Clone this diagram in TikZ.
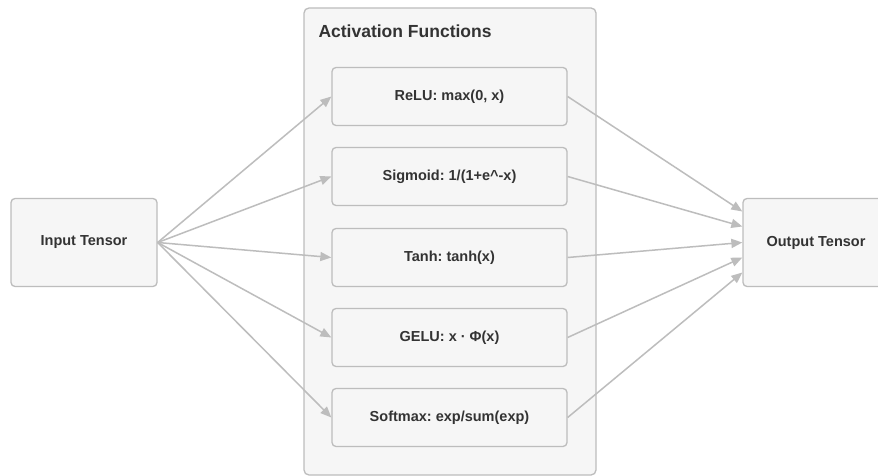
\documentclass[tikz,border=0pt]{standalone}
\usepackage{fontspec}
\setmainfont{Liberation Sans}
\usepackage{tikz}
\usetikzlibrary{arrows.meta,positioning,calc}
\frenchspacing

\definecolor{boxfill}{HTML}{F6F6F6}
\definecolor{boxline}{HTML}{BDBDBD}
\definecolor{textgray}{HTML}{333333}

\begin{document}
\begin{tikzpicture}[
    x=1pt, y=-1pt,
    tensor/.style={draw=boxline, line width=1.3pt, rounded corners=4pt, fill=boxfill, minimum width=146pt, minimum height=88pt, inner sep=0pt, align=center, font=\fontsize{14.5}{16}\selectfont\bfseries, text=textgray},
    act/.style={tensor, minimum width=235pt, minimum height=58pt},
    group/.style={draw=boxline, line width=1.3pt, rounded corners=5pt, fill=boxfill, minimum width=292pt, minimum height=467pt, inner sep=0pt},
    arr/.style={-{Triangle[length=11pt, width=9pt]}, line width=1.5pt, color=boxline}
]
\useasboundingbox (0,0) rectangle (878,476);
\fill[white] (0,0) rectangle (878,476);

% container for the activation functions
\node[group] (funcs) at (450,241.5) {};
\node[anchor=west, font=\fontsize{17.5}{19}\selectfont\bfseries, text=textgray] (title) at (315,31) {Activation Functions};

\node[tensor] (in) at (84,242.5) {Input Tensor};
\node[act] (relu) at (449.5,96.5) {ReLU: max(0, x)};
\node[act] (sig) at (449.5,176.5) {Sigmoid: 1/(1+e\^{}-x)};
\node[act] (tanh) at (449.5,257.5) {Tanh: tanh(x)};
\node[act] (gelu) at (449.5,337.5) {GELU: x · Φ(x)};
\node[act] (soft) at (449.5,417.5) {Softmax: exp/sum(exp)};
\node[tensor] (out) at (816,242.5) {Output Tensor};

\draw[arr] (in.east) -- (relu.west);
\draw[arr] (in.east) -- (sig.west);
\draw[arr] (in.east) -- (tanh.west);
\draw[arr] (in.east) -- (gelu.west);
\draw[arr] (in.east) -- (soft.west);
\draw[arr] (relu.east) -- ([yshift=31pt]out.west);
\draw[arr] (sig.east) -- ([yshift=16pt]out.west);
\draw[arr] (tanh.east) -- (out.west);
\draw[arr] (gelu.east) -- ([yshift=-15pt]out.west);
\draw[arr] (soft.east) -- ([yshift=-30pt]out.west);
\end{tikzpicture}
\end{document}
